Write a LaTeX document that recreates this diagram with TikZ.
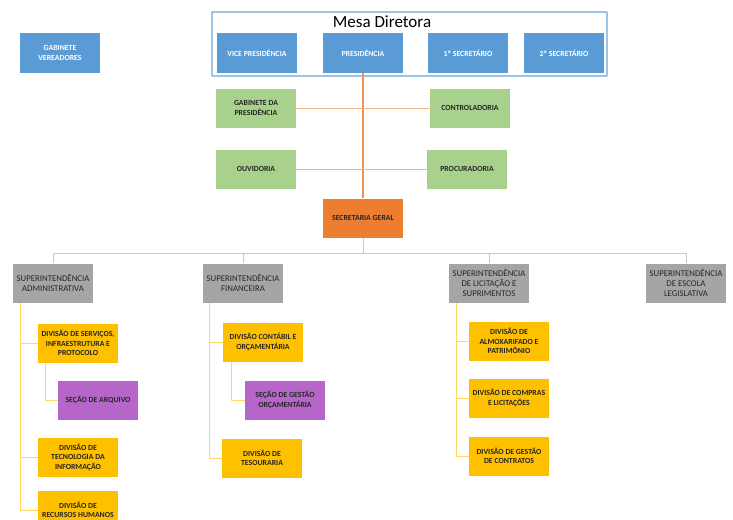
\documentclass[tikz,border=0pt]{standalone}
\usepackage{fontspec}
\setmainfont{Carlito}
\definecolor{cazul}{HTML}{5B9BD5}
\definecolor{cmoldura}{HTML}{9DC3E6}
\definecolor{cverde}{HTML}{A9D18E}
\definecolor{claranja}{HTML}{ED7D31}
\definecolor{clinha}{HTML}{F4B183}
\definecolor{ccinza}{HTML}{A5A5A5}
\definecolor{clcinza}{HTML}{C9C9C9}
\definecolor{camarelo}{HTML}{FFC000}
\definecolor{clamarelo}{HTML}{FFD966}
\definecolor{croxo}{HTML}{B665C9}
\definecolor{ctexto}{HTML}{262626}
\begin{document}
\begin{tikzpicture}[x=1pt,y=-1pt,line join=round,
	caixa/.style={minimum width=80pt,minimum height=39pt,inner sep=0pt,align=center,
		font=\fontsize{7.8}{9.5}\selectfont\bfseries,text=ctexto},
	azul/.style={caixa,fill=cazul,text=white},
	verde/.style={caixa,fill=cverde},
	laranja/.style={caixa,fill=claranja},
	cinza/.style={caixa,fill=ccinza,font=\fontsize{8.8}{10}\selectfont},
	amarelo/.style={caixa,fill=camarelo},
	roxo/.style={caixa,fill=croxo},
	ltronco/.style={claranja!85,line width=1.2pt},
	lramo/.style={clinha,line width=1pt},
	lcinza/.style={clcinza,line width=1pt},
	lamarelo/.style={clamarelo,line width=1pt}]
	\useasboundingbox (0,0) rectangle (733,519);
	% mesa diretora
	\draw[cmoldura,line width=1.2pt,fill=white] (212,12) rectangle (607,76);
	\node[font=\fontsize{17}{19}\selectfont] (mesa) at (382,22) {Mesa Diretora};
	\node[azul] (ver) at (60,53) {GABINETE\\VEREADORES};
	\node[azul] (vice) at (257,53) {VICE PRESIDÊNCIA};
	\node[azul] (pres) at (363,53) {PRESIDÊNCIA};
	\node[azul] (sec1) at (468,53) {1º SECRETÁRIO};
	\node[azul] (sec2) at (564,53) {2º SECRETÁRIO};
	% assessorias
	\node[verde] (gab) at (256,108) {GABINETE DA\\PRESIDÊNCIA};
	\node[verde] (contr) at (470,108) {CONTROLADORIA};
	\node[verde] (ouv) at (256,169) {OUVIDORIA};
	\node[verde] (proc) at (467,169) {PROCURADORIA};
	\node[laranja] (sg) at (363,218) {SECRETARIA GERAL};
	\draw[ltronco] (pres.south) -- (sg.north);
	\draw[lramo] (gab.east) -- (contr.west) (ouv.east) -- (proc.west);
	% superintendencias
	\node[cinza] (sadm) at (53,283) {SUPERINTENDÊNCIA\\ADMINISTRATIVA};
	\node[cinza] (sfin) at (243,283) {SUPERINTENDÊNCIA\\FINANCEIRA};
	\node[cinza] (slic) at (489,283) {SUPERINTENDÊNCIA\\DE LICITAÇÃO E\\SUPRIMENTOS};
	\node[cinza] (sesc) at (686,283) {SUPERINTENDÊNCIA\\DE ESCOLA\\LEGISLATIVA};
	\foreach \s in {sadm,sfin,slic,sesc}
	{\draw[lcinza] (sg.south) -- ++(0,16) -| (\s.north);}
	% divisoes
	\node[amarelo] (dserv) at (78,343) {DIVISÃO DE SERVIÇOS,\\INFRAESTRUTURA E\\PROTOCOLO};
	\node[roxo] (arq) at (98,400) {SEÇÃO DE ARQUIVO};
	\node[amarelo] (dti) at (78,457) {DIVISÃO DE\\TECNOLOGIA DA\\INFORMAÇÃO};
	\node[amarelo] (drh) at (78,510) {DIVISÃO DE\\RECURSOS HUMANOS};
	\node[amarelo] (dcont) at (263,342) {DIVISÃO CONTÁBIL E\\ORÇAMENTÁRIA};
	\node[roxo] (orc) at (285,400) {SEÇÃO DE GESTÃO\\ORÇAMENTÁRIA};
	\node[amarelo] (dtes) at (262,458) {DIVISÃO DE\\TESOURARIA};
	\node[amarelo] (dalm) at (509,341) {DIVISÃO DE\\ALMOXARIFADO E\\PATRIMÔNIO};
	\node[amarelo] (dcomp) at (509,398) {DIVISÃO DE COMPRAS\\E LICITAÇÕES};
	\node[amarelo] (dgc) at (509,456) {DIVISÃO DE GESTÃO\\DE CONTRATOS};
	\foreach \a/\b/\d in {sadm/dserv/8,sadm/dti/8,sadm/drh/8,dserv/arq/8,
		sfin/dcont/7,sfin/dtes/7,dcont/orc/9,slic/dalm/8,slic/dcomp/8,slic/dgc/8}
	{\draw[lamarelo] ([xshift=\d]\a.south west) |- (\b.west);}
\end{tikzpicture}
\end{document}
